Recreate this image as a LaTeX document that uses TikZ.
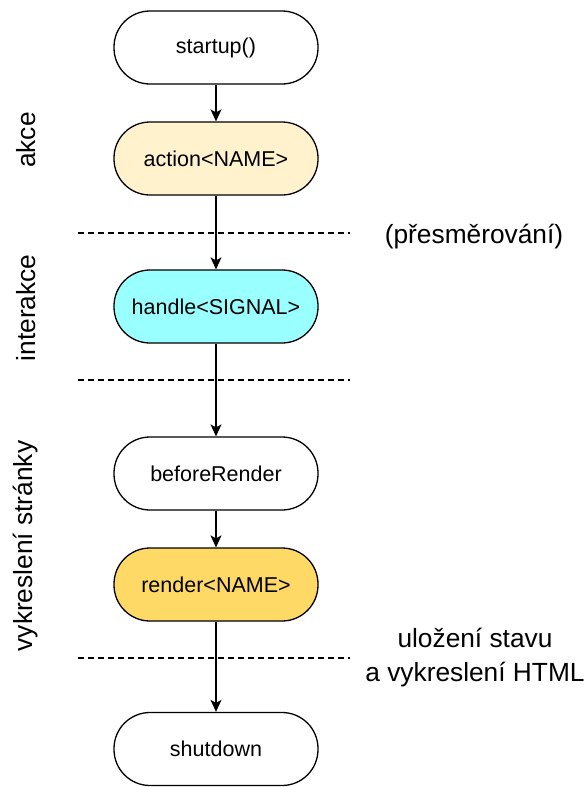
\documentclass[tikz,border=0pt]{standalone}
\usepackage{fontspec}
\setmainfont{Liberation Sans}
\usetikzlibrary{arrows.meta}
\definecolor{actfill}{HTML}{FFF2CC}
\definecolor{hndfill}{HTML}{99FFFF}
\definecolor{rndfill}{HTML}{FFD966}
\tikzset{
  term/.style={draw=black, line width=1.3pt, rectangle, rounded corners=36pt,
    minimum width=204pt, minimum height=73pt, inner sep=0pt,
    font=\fontsize{21.5}{25}\selectfont},
  flow/.style={draw=black, line width=1.3pt, -{Stealth[length=12pt,width=11pt,inset=3pt]}},
  sep/.style={draw=black, line width=1.2pt, dash pattern=on 6pt off 4pt},
  side/.style={font=\fontsize{26.3}{34}\selectfont, inner sep=0pt, align=center},
}
\begin{document}
\begin{tikzpicture}[x=1pt, y=-1pt]
\useasboundingbox (0,0) rectangle (588,787);
% separators
\coordinate (s1a) at (78,233); \coordinate (s1b) at (350,233);
\coordinate (s2a) at (78,380); \coordinate (s2b) at (350,380);
\coordinate (s3a) at (78,658); \coordinate (s3b) at (350,658);
\draw[sep] (s1a) -- (s1b);
\draw[sep] (s2a) -- (s2b);
\draw[sep] (s3a) -- (s3b);
% nodes
\node[term, fill=white]   (start)  at (216,47.5)  {startup()};
\node[term, fill=actfill] (action) at (216,158.5) {action<NAME>};
\node[term, fill=hndfill] (handle) at (216,306.5) {handle<SIGNAL>};
\node[term, fill=white]   (before) at (216,473.5) {beforeRender};
\node[term, fill=rndfill] (render) at (216,584.5) {render<NAME>};
\node[term, fill=white]   (shut)   at (216,749)   {shutdown};
% connectors
\draw[flow] (start) -- (action);
\draw[flow] (action) -- (handle);
\draw[flow] (handle) -- (before);
\draw[flow] (before) -- (render);
\draw[flow] (render) -- (shut);
% side labels
\node[side, rotate=90] (lakce) at (26,140) {akce};
\node[side, rotate=90] (linter) at (26,308) {interakce};
\node[side, rotate=90] (lvykr) at (26,546) {vykreslení stránky};
\node[side] (lpresm) at (474,237) {(přesměrování)};
\node[side] (lulozeni) at (475,657.5) {uložení stavu\\a vykreslení HTML};
\end{tikzpicture}
\end{document}
